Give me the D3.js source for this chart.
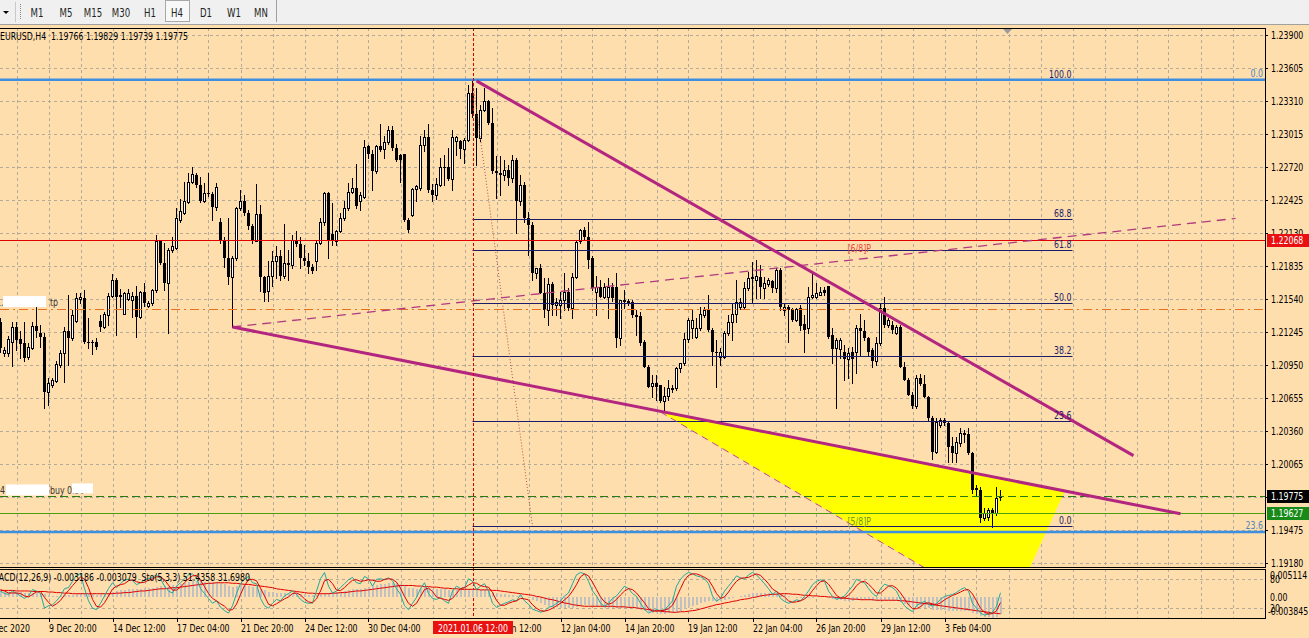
<!DOCTYPE html>
<html><head><meta charset="utf-8">
<script src="https://cdn.jsdelivr.net/npm/d3@7"></script>
<style>
html,body{margin:0;padding:0;background:#FFDEAD;overflow:hidden}
svg{display:block}
text{font-family:"DejaVu Sans Condensed","DejaVu Sans",sans-serif;font-size:10.5px;white-space:pre}
</style></head><body>
<svg id="c" width="1309" height="638"></svg>
<script>
// ---------------- DATA ----------------
const titleText = "EURUSD,H4  1.19766 1.19829 1.19739 1.19775";
const indicatorText = "MACD(12,26,9) -0.003186 -0.003079  Sto(5,3,3) 51.4358 31.6980";
const periods = ["M1","M5","M15","M30","H1","H4","D1","W1","MN"];
const activePeriod = "H4";
// OHLC per H4 bar, [open, high, low, close]
const ohlc = [
[1.2133,1.2137,1.2107,1.2110],[1.2106,1.2111,1.2103,1.2108],[1.2106,1.2121,1.2103,1.2118],[1.2116,1.2133,1.2094,1.2129],[1.2129,1.2133,1.2108,1.2117],
[1.2118,1.2125,1.2101,1.2114],[1.2115,1.2133,1.2099,1.2101],[1.2102,1.2115,1.2100,1.2111],[1.2110,1.2133,1.2109,1.2130],[1.2130,1.2147,1.2120,1.2125],
[1.2124,1.2131,1.2111,1.2120],[1.2120,1.2124,1.2057,1.2071],[1.2071,1.2083,1.2059,1.2079],[1.2077,1.2083,1.2075,1.2082],[1.2081,1.2099,1.2080,1.2096],
[1.2095,1.2108,1.2093,1.2106],[1.2106,1.2129,1.2080,1.2125],[1.2125,1.2158,1.2095,1.2119],[1.2119,1.2144,1.2117,1.2140],[1.2134,1.2159,1.2133,1.2155],
[1.2154,1.2159,1.2150,1.2156],[1.2155,1.2162,1.2115,1.2116],[1.2116,1.2137,1.2110,1.2115],[1.2116,1.2117,1.2105,1.2115],[1.2116,1.2119,1.2109,1.2111],
[1.2134,1.2140,1.2125,1.2129],[1.2129,1.2142,1.2128,1.2141],[1.2140,1.2159,1.2131,1.2157],[1.2157,1.2176,1.2156,1.2171],[1.2171,1.2173,1.2122,1.2156],
[1.2158,1.2163,1.2147,1.2156],[1.2141,1.2160,1.2141,1.2159],[1.2154,1.2163,1.2153,1.2159],[1.2153,1.2160,1.2138,1.2157],[1.2157,1.2166,1.2120,1.2138],
[1.2138,1.2161,1.2137,1.2160],[1.2160,1.2168,1.2148,1.2150],[1.2148,1.2152,1.2147,1.2150],[1.2150,1.2163,1.2149,1.2162],[1.2162,1.2211,1.2160,1.2206],
[1.2206,1.2207,1.2185,1.2186],[1.2186,1.2204,1.2162,1.2168],[1.2168,1.2200,1.2124,1.2198],[1.2198,1.2209,1.2196,1.2201],[1.2200,1.2235,1.2199,1.2226],
[1.2225,1.2243,1.2223,1.2233],[1.2231,1.2259,1.2230,1.2242],[1.2241,1.2267,1.2240,1.2259],[1.2259,1.2272,1.2258,1.2266],[1.2265,1.2267,1.2254,1.2256],
[1.2256,1.2263,1.2241,1.2242],[1.2242,1.2258,1.2241,1.2249],[1.2249,1.2267,1.2246,1.2248],[1.2248,1.2250,1.2225,1.2236],[1.2236,1.2258,1.2234,1.2254],
[1.2223,1.2226,1.2204,1.2207],[1.2207,1.2209,1.2183,1.2191],[1.2191,1.2226,1.2167,1.2174],[1.2174,1.2192,1.2129,1.2191],[1.2191,1.2236,1.2189,1.2235],
[1.2235,1.2251,1.2234,1.2242],[1.2242,1.2247,1.2229,1.2231],[1.2231,1.2234,1.2217,1.2219],[1.2219,1.2221,1.2204,1.2206],[1.2206,1.2257,1.2206,1.2230],
[1.2230,1.2238,1.2161,1.2174],[1.2174,1.2175,1.2152,1.2159],[1.2161,1.2188,1.2152,1.2175],[1.2175,1.2197,1.2166,1.2188],[1.2188,1.2201,1.2173,1.2192],
[1.2192,1.2198,1.2171,1.2175],[1.2175,1.2221,1.2173,1.2186],[1.2186,1.2198,1.2171,1.2184],[1.2184,1.2211,1.2182,1.2207],[1.2207,1.2215,1.2201,1.2203],
[1.2203,1.2209,1.2182,1.2191],[1.2191,1.2202,1.2184,1.2188],[1.2188,1.2195,1.2177,1.2183],[1.2183,1.2185,1.2177,1.2179],[1.2188,1.2207,1.2180,1.2204],
[1.2204,1.2226,1.2203,1.2223],[1.2223,1.2250,1.2220,1.2249],[1.2249,1.2250,1.2191,1.2206],[1.2212,1.2240,1.2202,1.2206],[1.2206,1.2216,1.2202,1.2215],
[1.2215,1.2231,1.2214,1.2226],[1.2226,1.2242,1.2225,1.2235],[1.2235,1.2258,1.2234,1.2250],[1.2250,1.2262,1.2249,1.2253],[1.2253,1.2275,1.2235,1.2237],
[1.2242,1.2250,1.2234,1.2247],[1.2245,1.2296,1.2244,1.2290],[1.2291,1.2292,1.2280,1.2284],[1.2284,1.2287,1.2251,1.2268],[1.2268,1.2292,1.2267,1.2291],
[1.2291,1.2310,1.2286,1.2287],[1.2288,1.2300,1.2280,1.2294],[1.2294,1.2309,1.2293,1.2305],[1.2305,1.2309,1.2287,1.2289],[1.2289,1.2293,1.2277,1.2278],
[1.2283,1.2284,1.2259,1.2278],[1.2284,1.2284,1.2224,1.2225],[1.2225,1.2226,1.2214,1.2216],[1.2229,1.2253,1.2228,1.2252],[1.2252,1.2256,1.2242,1.2255],
[1.2253,1.2300,1.2251,1.2292],[1.2292,1.2305,1.2286,1.2299],[1.2299,1.2310,1.2250,1.2251],[1.2251,1.2257,1.2242,1.2247],[1.2247,1.2262,1.2243,1.2257],
[1.2256,1.2280,1.2255,1.2272],[1.2272,1.2283,1.2256,1.2271],[1.2272,1.2289,1.2260,1.2261],[1.2261,1.2305,1.2251,1.2299],[1.2295,1.2300,1.2283,1.2299],
[1.2295,1.2296,1.2280,1.2288],[1.2288,1.2298,1.2276,1.2296],[1.2296,1.2345,1.2295,1.2338],[1.2338,1.2350,1.2317,1.2319],[1.2319,1.2343,1.2274,1.2298],
[1.2298,1.2327,1.2295,1.2323],[1.2323,1.2343,1.2322,1.2331],[1.2331,1.2332,1.2310,1.2311],[1.2311,1.2325,1.2267,1.2268],[1.2268,1.2282,1.2244,1.2267],
[1.2267,1.2282,1.2247,1.2265],[1.2265,1.2278,1.2260,1.2269],[1.2269,1.2274,1.2256,1.2262],[1.2262,1.2283,1.2259,1.2278],[1.2278,1.2280,1.2213,1.2242],
[1.2242,1.2265,1.2238,1.2256],[1.2256,1.2259,1.2223,1.2226],[1.2226,1.2232,1.2193,1.2220],[1.2220,1.2223,1.2171,1.2177],[1.2177,1.2182,1.2173,1.2182],
[1.2182,1.2185,1.2159,1.2159],[1.2159,1.2173,1.2138,1.2144],[1.2144,1.2173,1.2131,1.2167],[1.2167,1.2169,1.2140,1.2149],[1.2149,1.2155,1.2140,1.2151],
[1.2149,1.2160,1.2137,1.2153],[1.2153,1.2177,1.2144,1.2160],[1.2160,1.2164,1.2144,1.2146],[1.2146,1.2177,1.2137,1.2174],[1.2174,1.2207,1.2173,1.2205],
[1.2206,1.2217,1.2204,1.2216],[1.2216,1.2218,1.2207,1.2209],[1.2209,1.2223,1.2182,1.2189],[1.2191,1.2192,1.2162,1.2164],[1.2160,1.2175,1.2140,1.2165],
[1.2165,1.2171,1.2156,1.2156],[1.2156,1.2168,1.2155,1.2165],[1.2156,1.2173,1.2137,1.2165],[1.2165,1.2168,1.2152,1.2155],[1.2165,1.2177,1.2111,1.2119],
[1.2119,1.2153,1.2113,1.2153],[1.2153,1.2162,1.2146,1.2151],[1.2152,1.2154,1.2149,1.2150],[1.2151,1.2153,1.2138,1.2140],[1.2140,1.2144,1.2122,1.2138],
[1.2139,1.2142,1.2113,1.2115],[1.2116,1.2117,1.2093,1.2093],[1.2093,1.2095,1.2075,1.2075],[1.2076,1.2086,1.2066,1.2079],[1.2079,1.2086,1.2064,1.2075],
[1.2077,1.2077,1.2062,1.2063],[1.2063,1.2075,1.2054,1.2067],[1.2067,1.2082,1.2064,1.2074],[1.2074,1.2077,1.2071,1.2073],[1.2074,1.2093,1.2073,1.2092],
[1.2092,1.2097,1.2089,1.2097],[1.2097,1.2124,1.2095,1.2118],[1.2118,1.2137,1.2116,1.2135],[1.2128,1.2144,1.2119,1.2135],[1.2120,1.2137,1.2119,1.2128],
[1.2128,1.2147,1.2126,1.2141],[1.2140,1.2147,1.2138,1.2144],[1.2144,1.2158,1.2125,1.2126],[1.2126,1.2128,1.2095,1.2107],[1.2107,1.2117,1.2075,1.2106],
[1.2102,1.2110,1.2095,1.2107],[1.2102,1.2125,1.2101,1.2124],[1.2124,1.2140,1.2122,1.2133],[1.2133,1.2150,1.2117,1.2141],[1.2141,1.2171,1.2133,1.2151],
[1.2147,1.2155,1.2145,1.2151],[1.2147,1.2169,1.2146,1.2164],[1.2164,1.2178,1.2162,1.2173],[1.2174,1.2187,1.2151,1.2172],[1.2171,1.2189,1.2155,1.2175],
[1.2174,1.2184,1.2155,1.2165],[1.2164,1.2174,1.2155,1.2168],[1.2167,1.2173,1.2166,1.2171],[1.2170,1.2171,1.2160,1.2164],[1.2164,1.2182,1.2160,1.2180],
[1.2180,1.2182,1.2144,1.2147],[1.2144,1.2150,1.2140,1.2147],[1.2147,1.2149,1.2116,1.2144],[1.2145,1.2146,1.2134,1.2135],[1.2135,1.2146,1.2134,1.2145],
[1.2146,1.2149,1.2126,1.2130],[1.2132,1.2140,1.2107,1.2126],[1.2128,1.2165,1.2124,1.2156],[1.2156,1.2176,1.2155,1.2158],[1.2156,1.2168,1.2155,1.2159],
[1.2158,1.2165,1.2158,1.2160],[1.2162,1.2165,1.2158,1.2159],[1.2166,1.2166,1.2119,1.2120],[1.2122,1.2128,1.2097,1.2109],[1.2110,1.2119,1.2057,1.2117],
[1.2109,1.2119,1.2101,1.2117],[1.2107,1.2113,1.2082,1.2100],[1.2100,1.2110,1.2083,1.2106],[1.2107,1.2111,1.2079,1.2100],[1.2107,1.2131,1.2088,1.2128],
[1.2128,1.2141,1.2104,1.2125],[1.2125,1.2135,1.2117,1.2119],[1.2119,1.2120,1.2104,1.2107],[1.2108,1.2110,1.2093,1.2099],[1.2099,1.2120,1.2095,1.2115],
[1.2115,1.2150,1.2113,1.2146],[1.2146,1.2156,1.2129,1.2131],[1.2131,1.2137,1.2129,1.2135],[1.2131,1.2134,1.2124,1.2126],[1.2124,1.2131,1.2123,1.2129],
[1.2129,1.2131,1.2093,1.2093],[1.2093,1.2098,1.2082,1.2082],[1.2082,1.2083,1.2068,1.2068],[1.2068,1.2071,1.2057,1.2058],[1.2058,1.2086,1.2057,1.2083],
[1.2083,1.2087,1.2077,1.2078],[1.2078,1.2086,1.2066,1.2066],[1.2066,1.2067,1.2046,1.2048],[1.2048,1.2049,1.2011,1.2017],[1.2017,1.2048,1.2016,1.2044],
[1.2041,1.2048,1.2040,1.2046],[1.2046,1.2048,1.2041,1.2043],[1.2043,1.2044,1.2008,1.2022],[1.2023,1.2031,1.2008,1.2016],[1.2016,1.2031,1.2008,1.2026],
[1.2025,1.2039,1.2023,1.2034],[1.2034,1.2037,1.2026,1.2032],[1.2033,1.2039,1.2015,1.2016],[1.2016,1.2017,1.1981,1.1983],[1.1985,1.1988,1.1979,1.1983],
[1.1983,1.1986,1.1955,1.1958],[1.1958,1.1967,1.1956,1.1963],[1.1959,1.1967,1.1956,1.1965],[1.1965,1.1967,1.1950,1.1963],[1.1963,1.1986,1.1961,1.1976],
[1.19766,1.19829,1.19739,1.19775]
];
// MACD(12,26,9) main (histogram) and signal
const macdMain = [
0.0011,0.0010,0.0010,0.0010,0.0010,0.0009,0.0008,0.0008,0.0008,0.0008,
0.0008,0.0005,0.0003,0.0002,0.0002,0.0002,0.0003,0.0003,0.0004,0.0006,
0.0008,0.0007,0.0006,0.0005,0.0004,0.0005,0.0006,0.0008,0.0010,0.0011,
0.0012,0.0013,0.0014,0.0015,0.0015,0.0015,0.0016,0.0016,0.0016,0.0019,
0.0020,0.0020,0.0020,0.0021,0.0022,0.0024,0.0026,0.0028,0.0029,0.0029,
0.0029,0.0028,0.0028,0.0027,0.0027,0.0025,0.0023,0.0020,0.0019,0.0020,
0.0021,0.0021,0.0020,0.0018,0.0018,0.0015,0.0012,0.0010,0.0009,0.0008,
0.0007,0.0007,0.0006,0.0007,0.0007,0.0006,0.0005,0.0004,0.0003,0.0004,
0.0006,0.0008,0.0008,0.0008,0.0009,0.0010,0.0011,0.0013,0.0014,0.0014,
0.0014,0.0017,0.0019,0.0020,0.0021,0.0023,0.0024,0.0025,0.0026,0.0025,
0.0024,0.0020,0.0017,0.0016,0.0015,0.0017,0.0018,0.0016,0.0014,0.0014,
0.0014,0.0014,0.0013,0.0013,0.0013,0.0013,0.0013,0.0015,0.0015,0.0013,
0.0012,0.0012,0.0011,0.0009,0.0007,0.0006,0.0005,0.0004,0.0004,0.0002,
0.0001,0.0000,-0.0002,-0.0005,-0.0008,-0.0011,-0.0014,-0.0016,-0.0018,-0.0019,
-0.0020,-0.0020,-0.0021,-0.0020,-0.0018,-0.0016,-0.0015,-0.0015,-0.0017,-0.0018,
-0.0019,-0.0020,-0.0020,-0.0020,-0.0021,-0.0021,-0.0020,-0.0020,-0.0021,-0.0022,
-0.0024,-0.0026,-0.0028,-0.0029,-0.0030,-0.0031,-0.0031,-0.0030,-0.0029,-0.0027,
-0.0025,-0.0022,-0.0019,-0.0016,-0.0014,-0.0011,-0.0009,-0.0008,-0.0008,-0.0008,
-0.0008,-0.0006,-0.0004,-0.0002,0.0000,0.0002,0.0004,0.0006,0.0007,0.0008,
0.0008,0.0008,0.0008,0.0007,0.0007,0.0005,0.0003,0.0001,0.0000,-0.0001,
-0.0002,-0.0003,-0.0002,-0.0001,0.0000,0.0000,0.0000,-0.0002,-0.0004,-0.0006,
-0.0006,-0.0007,-0.0007,-0.0008,-0.0006,-0.0005,-0.0005,-0.0006,-0.0007,-0.0008,
-0.0006,-0.0006,-0.0006,-0.0007,-0.0007,-0.0010,-0.0013,-0.0016,-0.0019,-0.0019,
-0.0019,-0.0020,-0.0021,-0.0024,-0.0024,-0.0024,-0.0024,-0.0025,-0.0026,-0.0026,
-0.0025,-0.0025,-0.0026,-0.0029,-0.0031,-0.0034,-0.0036,-0.0037,-0.00384,-0.0036,-0.003186
];
const macdSignal = [
0.0012,0.0012,0.0012,0.0012,0.0011,0.0011,0.0011,0.0011,0.0010,0.0010,
0.0010,0.0010,0.0009,0.0009,0.0008,0.0008,0.0007,0.0007,0.0006,0.0006,
0.0006,0.0006,0.0006,0.0006,0.0006,0.0006,0.0006,0.0006,0.0006,0.0007,
0.0007,0.0008,0.0008,0.0009,0.0010,0.0011,0.0011,0.0012,0.0013,0.0014,
0.0015,0.0015,0.0016,0.0017,0.0017,0.0018,0.0019,0.0020,0.0021,0.0022,
0.0023,0.0024,0.0025,0.0025,0.0026,0.0026,0.0026,0.0026,0.0025,0.0025,
0.0024,0.0023,0.0023,0.0022,0.0021,0.0020,0.0019,0.0018,0.0017,0.0015,
0.0014,0.0013,0.0012,0.0011,0.0010,0.0009,0.0008,0.0007,0.0007,0.0006,
0.0006,0.0006,0.0006,0.0007,0.0007,0.0008,0.0008,0.0009,0.0010,0.0011,
0.0011,0.0012,0.0013,0.0014,0.0015,0.0016,0.0017,0.0018,0.0019,0.0020,
0.0021,0.0021,0.0021,0.0021,0.0020,0.0020,0.0019,0.0019,0.0018,0.0018,
0.0017,0.0016,0.0016,0.0015,0.0015,0.0014,0.0014,0.0014,0.0014,0.0014,
0.0013,0.0013,0.0013,0.0012,0.0012,0.0011,0.0010,0.0009,0.0008,0.0007,
0.0006,0.0005,0.0004,0.0003,0.0001,0.0000,-0.0002,-0.0004,-0.0005,-0.0007,
-0.0009,-0.0011,-0.0012,-0.0014,-0.0015,-0.0016,-0.0017,-0.0017,-0.0017,-0.0017,
-0.0017,-0.0017,-0.0017,-0.0017,-0.0018,-0.0018,-0.0018,-0.0019,-0.0019,-0.0020,
-0.0021,-0.0022,-0.0023,-0.0024,-0.0025,-0.0026,-0.0027,-0.0027,-0.0028,-0.0028,
-0.0027,-0.0027,-0.0026,-0.0025,-0.0024,-0.0022,-0.0020,-0.0018,-0.0016,-0.0014,
-0.0013,-0.0011,-0.0010,-0.0008,-0.0007,-0.0005,-0.0004,-0.0003,-0.0001,0.0000,
0.0002,0.0003,0.0004,0.0005,0.0005,0.0006,0.0006,0.0006,0.0005,0.0005,
0.0004,0.0003,0.0003,0.0002,0.0002,0.0001,0.0001,0.0000,0.0000,-0.0001,
-0.0002,-0.0002,-0.0003,-0.0004,-0.0004,-0.0005,-0.0005,-0.0005,-0.0005,-0.0006,
-0.0006,-0.0006,-0.0006,-0.0006,-0.0006,-0.0007,-0.0007,-0.0008,-0.0009,-0.0010,
-0.0011,-0.0012,-0.0013,-0.0014,-0.0015,-0.0016,-0.0017,-0.0018,-0.0019,-0.0020,
-0.0021,-0.0022,-0.0023,-0.0024,-0.0025,-0.0026,-0.0027,-0.0028,-0.0029,-0.0030,-0.003079
];
// Stochastic(5,3,3) main and signal
const stochMain = [
55,50,48,55,50,45,40,45,58,55, 50,20,25,27,35,45,60,62,75,88,
90,60,35,20,17,30,45,60,72,62, 70,78,79,76,68,72,78,80,83,88,
80,65,55,51,65,72,80,88,90,82, 60,50,40,30,35,22,15,10,25,50,
70,79,85,72,70,40,25,20,30,38, 35,45,50,55,48,38,32,30,31,55,
80,93,65,51,55,62,70,78,83,72, 70,85,80,65,79,80,78,82,76,60,
48,25,17,30,42,60,72,50,40,38, 42,35,30,55,65,60,62,80,75,58,
65,70,55,30,22,26,30,33,37,35, 48,35,28,18,15,12,14,22,24,30,
35,45,51,70,88,93,90,75,55,45, 30,24,30,40,45,55,65,60,50,44,
30,18,10,14,17,15,17,25,35,65, 79,88,93,90,86,84,80,70,45,34,
40,55,65,75,86,82,79,88,93,88, 79,70,60,48,55,40,34,30,33,37,
35,44,55,68,75,78,75,55,44,38, 41,45,55,65,79,75,72,60,50,44,
60,69,66,62,55,37,25,18,13,25, 30,34,28,24,30,38,44,46,48,52,
58,62,55,30,20,10,6,8,12,24,51.4358
];
const stochSignal = [
58,55,51,51,51,50,45,43,48,53, 54,42,32,24,29,36,47,56,66,75,
84,79,62,38,24,22,31,45,59,65, 68,70,76,78,74,72,73,77,80,84,
84,78,67,57,57,63,72,80,86,87, 77,64,50,40,35,29,24,16,17,28,
48,66,78,79,76,61,45,28,25,29, 34,39,43,50,51,47,39,33,31,39,
55,76,79,70,57,56,62,70,77,78, 75,76,78,77,75,75,79,80,79,73,
61,44,30,24,30,44,58,61,54,43, 40,38,36,40,50,60,62,67,72,71,
66,64,63,52,36,26,26,30,33,35, 40,39,37,27,20,15,14,16,20,25,
30,37,44,55,68,84,90,86,73,58, 43,33,28,31,38,47,55,60,58,51,
41,31,19,14,14,15,16,19,26,42, 60,77,87,90,90,87,83,78,65,50,
40,43,53,65,75,81,82,83,87,90, 87,79,70,59,54,48,43,35,32,33,
35,39,45,56,66,74,76,69,58,46, 41,41,47,55,66,73,75,69,61,51,
51,58,65,66,61,51,39,27,19,19, 23,30,31,29,27,31,37,42,46,49,
53,57,58,49,35,20,12,8,9,15,31.698
];
const priceTicks = [1.23900,1.23605,1.23310,1.23015,1.22720,1.22425,1.22130,1.21835,1.21540,1.21245,1.20950,1.20655,1.20360,1.20065,1.19770,1.19475,1.19180];
const timeLabels = [[-4,"7 Dec 2020"],[12,"9 Dec 20:00"],[28,"14 Dec 12:00"],[44,"17 Dec 04:00"],[60,"21 Dec 20:00"],[76,"24 Dec 12:00"],[92,"30 Dec 04:00"],[140,"12 Jan 04:00"],[156,"14 Jan 20:00"],[172,"19 Jan 12:00"],[188,"22 Jan 04:00"],[204,"26 Jan 20:00"],[220,"29 Jan 12:00"],[236,"3 Feb 04:00"]];
const hiddenTimeLabel = [124,"7 Jan 12:00"];   // mostly covered by the vertical-line time tag
const vLineBar = 118, vLineLabel = "2021.01.06 12:00";
// objects: [bar, price]
const trendUpper = [[119,1.2349],[283.25,1.2014]];
const trendLower = [[58,1.2129],[295,1.1962]];
const trendRising = [[58,1.2129],[308.75,1.2226]];
const triangle = [[165,1.2053],[266,1.1982],[251.75,1.1870]];
const fibBars = [118,268], fibHigh = 1.2350, fibLow = 1.1951;
const fibLevels = [0,23.6,38.2,50,61.8,68.8,100];
const fibDiag = [[118,1.2350],[133,1.1951]];
const fibBlue = [["0.0",1.2350],["23.6",1.19457]];
const redLevel = 1.22068, tpLevel = 1.2145, bidLevel = 1.19775, greenLevel = 1.19627;
const murrey = [["[6/8]P",212,1.22068],["[5/8]P",212,1.19627]];
const macdTicks = [["0.005114",0.005114],["0.00",0],["-0.003845",-0.003845]];
const stochTicks = [["80",80],["20",20]];

// ---------------- CHART ----------------
const svg = d3.select("#c");
const BG = "#FFDEAD";
const R = 1265, T = 28, B = 567, ST = 569, SB = 618;
const SX = 0.83; // horizontal compression to mimic the narrow terminal font
const x = d3.scaleLinear().domain([0,250]).range([0.5,1000.5]);
const y = d3.scaleLinear().domain([1.19180,1.23900]).range([563,35]);
const yM = d3.scaleLinear().domain([-0.003845,0.005114]).range([SB,ST]);
const yS = d3.scaleLinear().domain([0,100]).range([SB,ST]);
const cr = v => Math.round(v)+0.5;
const txt = (g,tx,ty,s,fill,anchor) => g.append("text").attr("transform",`translate(${tx},${ty}) scale(${SX},1)`).attr("text-anchor",anchor||"start").attr("fill",fill||"#000").text(s);

svg.append("rect").attr("width",1309).attr("height",638).attr("fill",BG);
const defs = svg.append("defs");
defs.append("clipPath").attr("id","cm").append("rect").attr("x",0).attr("y",T).attr("width",R).attr("height",B-T);
defs.append("clipPath").attr("id","cs").append("rect").attr("x",0).attr("y",ST).attr("width",R).attr("height",SB-ST);
defs.append("clipPath").attr("id","ct").append("rect").attr("x",513).attr("y",615).attr("width",60).attr("height",23);

// grid
const grid = svg.append("g").attr("stroke","#b5aa9a").attr("stroke-dasharray","3,3").attr("shape-rendering","crispEdges");
const gridBars = d3.range(4,320,8).filter(b => x(b) < R);
gridBars.forEach(b=>{
  grid.append("line").attr("x1",cr(x(b))-0.5).attr("x2",cr(x(b))-0.5).attr("y1",T).attr("y2",B);
  grid.append("line").attr("x1",cr(x(b))-0.5).attr("x2",cr(x(b))-0.5).attr("y1",ST).attr("y2",SB);
});
priceTicks.forEach(p=>grid.append("line").attr("x1",0).attr("x2",R).attr("y1",cr(y(p))).attr("y2",cr(y(p))));
stochTicks.forEach(t=>grid.append("line").attr("x1",0).attr("x2",R).attr("y1",cr(yS(t[1]))).attr("y2",cr(yS(t[1]))));

const gm = svg.append("g").attr("clip-path","url(#cm)");
// yellow triangle
gm.append("path").attr("d", d3.line().x(d=>x(d[0])).y(d=>y(d[1]))(triangle)+"Z").attr("fill","#ffff00");

// candles
const gc = gm.append("g").attr("shape-rendering","crispEdges");
ohlc.forEach((d,i)=>{
  const [o,h,l,c] = d; const cx = x(i);
  gc.append("line").attr("x1",cx).attr("x2",cx).attr("y1",Math.round(y(h))).attr("y2",Math.round(y(l))+1).attr("stroke","#000");
  const top = Math.round(y(Math.max(o,c))), bot = Math.round(y(Math.min(o,c)));
  if (c >= o) {
    gc.append("rect").attr("x",cx-1).attr("y",top+0.5).attr("width",2).attr("height",Math.max(bot-top,0)).attr("fill","#fff").attr("stroke","#000");
  } else {
    gc.append("rect").attr("x",cx-1.5).attr("y",top).attr("width",3).attr("height",Math.max(bot-top,1)).attr("fill","#000");
  }
});

// navy fibo (under the blue lines)
const fibPrice = lv => fibLow + (fibHigh-fibLow)*lv/100;
fibLevels.forEach(lv=>{
  gm.append("line").attr("x1",x(fibBars[0])).attr("x2",x(fibBars[1])).attr("y1",cr(y(fibPrice(lv)))).attr("y2",cr(y(fibPrice(lv)))).attr("stroke","#1c1c6a").attr("stroke-width",1);
});
gm.append("line").attr("x1",x(fibDiag[0][0])).attr("y1",y(fibDiag[0][1])).attr("x2",x(fibDiag[1][0])).attr("y2",y(fibDiag[1][1])).attr("stroke","#b0504a").attr("stroke-dasharray","1,2");

// horizontal lines
const hl = (p,col,w,dash)=>{const l=gm.append("line").attr("x1",0).attr("x2",R).attr("y1",cr(y(p))).attr("y2",cr(y(p))).attr("stroke",col).attr("stroke-width",w); if(dash) l.attr("stroke-dasharray",dash); return l;};
hl(tpLevel,"#e8701e",1,"9,4,2,4");
hl(redLevel,"#e00000",1.2);
hl(bidLevel,"#2a7a10",1,"8,4");
hl(greenLevel,"#48a010",1.2);
fibBlue.forEach(f=>gm.append("line").attr("x1",0).attr("x2",R).attr("y1",y(f[1])).attr("y2",y(f[1])).attr("stroke","#3f8fe0").attr("stroke-width",2.5));

// trend lines
const tl = (pts,col,w,dash)=>{const l=gm.append("line").attr("x1",x(pts[0][0])).attr("y1",y(pts[0][1])).attr("x2",x(pts[1][0])).attr("y2",y(pts[1][1])).attr("stroke",col).attr("stroke-width",w); if(dash) l.attr("stroke-dasharray",dash); return l;};
tl(trendRising,"#b03a80",1.3,"9,6");
tl([triangle[0],triangle[2]],"#c0409a",1,"7,5");
tl(trendUpper,"#b3267f",3);
tl(trendLower,"#b3267f",3);

// vertical line
svg.append("line").attr("x1",cr(x(vLineBar))-0.5).attr("x2",cr(x(vLineBar))-0.5).attr("y1",T).attr("y2",SB).attr("stroke","#d00000").attr("stroke-dasharray","3,2").attr("shape-rendering","crispEdges");

// labels on chart
fibLevels.forEach(lv=> txt(gm, x(fibBars[1])-1, y(fibPrice(lv))-2, lv.toFixed(1), "#1c1c6a", "end"));
fibBlue.forEach(f=> txt(gm, R-2, y(f[1])-3, f[0], "#4a86c0", "end"));
txt(gm, x(murrey[0][1])-1, y(murrey[0][2])+12, murrey[0][0], "#e8483a");
txt(gm, x(murrey[1][1])-1, y(murrey[1][2])+12, murrey[1][0], "#6e9a22");
txt(gm, 0, 40, titleText, "#000");
// order labels (masked in the original)
txt(gm, -4, y(tpLevel)-3, "1.", "#333");
gm.append("rect").attr("x",3).attr("y",y(tpLevel)-13).attr("width",43).attr("height",11).attr("fill","#fff");
txt(gm, 50, y(tpLevel)-3, "tp", "#333");
txt(gm, -5, y(bidLevel)-2, "14", "#333");
gm.append("rect").attr("x",6).attr("y",y(bidLevel)-12).attr("width",43).attr("height",11).attr("fill","#fff");
txt(gm, 50, y(bidLevel)-2, "buy 0.50", "#333");
gm.append("rect").attr("x",72).attr("y",y(bidLevel)-13).attr("width",21).attr("height",10).attr("fill","#fff");
// chart shift marker
svg.append("path").attr("d","M1003,29L1012,29L1007.5,34Z").attr("fill","#9a9a9a");

// ---------------- SUBWINDOW ----------------
const gs = svg.append("g").attr("clip-path","url(#cs)");
const gh = gs.append("g").attr("shape-rendering","crispEdges");
macdMain.forEach((v,i)=>{
  const a = yM(0), b = yM(v);
  gh.append("rect").attr("x",x(i)-0.5).attr("y",Math.min(a,b)).attr("width",2).attr("height",Math.max(Math.abs(b-a),0.5)).attr("fill","#c0c0c0");
});
const lineS = d3.line().x((d,i)=>x(i)).y(d=>yS(d));
const lineM = d3.line().x((d,i)=>x(i)).y(d=>yM(d));
gs.append("path").attr("d",lineM(macdSignal)).attr("fill","none").attr("stroke","#e00000").attr("stroke-width",1);
gs.append("path").attr("d",lineS(stochMain)).attr("fill","none").attr("stroke","#20a89c").attr("stroke-width",1);
gs.append("path").attr("d",lineS(stochSignal)).attr("fill","none").attr("stroke","#e00000").attr("stroke-width",1);
txt(gs, -8, 581, indicatorText, "#000");

// ---------------- FRAMES ----------------
const fr = svg.append("g").attr("stroke","#000").attr("fill","none").attr("shape-rendering","crispEdges");
fr.append("path").attr("d",`M0,${T+0.5}H${R+0.5}V${B+0.5}H0`);
fr.append("path").attr("d",`M0,${ST+0.5}H${R+0.5}V${SB+0.5}H0`);

// ---------------- PRICE AXIS ----------------
const ax = svg.append("g");
priceTicks.forEach(p=>{
  ax.append("line").attr("x1",R).attr("x2",R+3).attr("y1",cr(y(p))).attr("y2",cr(y(p))).attr("stroke","#000").attr("shape-rendering","crispEdges");
  txt(ax, R+6, y(p)+4, p.toFixed(5), "#000");
});
const priceBox = (p,bg)=>{
  ax.append("rect").attr("x",R+2).attr("y",Math.round(y(p))-6).attr("width",42).attr("height",13).attr("fill",bg);
  txt(ax, R+6, y(p)+4, p.toFixed(5), "#fff");
};
priceBox(redLevel,"#e81010");
priceBox(bidLevel,"#000");
priceBox(greenLevel,"#178a17");
macdTicks.forEach(t=> txt(ax, R+(t[1]<0?3:5), yM(t[1])+(t[1]>0?10:(t[1]<0?-3:4)), t[0], "#000"));
stochTicks.forEach(t=> txt(ax, R+5, yS(t[1])+4, t[0], "#000"));

// ---------------- TIME AXIS ----------------
timeLabels.forEach(t=>{
  const tx = Math.round(x(t[0]));
  ax.append("line").attr("x1",tx+0.5).attr("x2",tx+0.5).attr("y1",SB).attr("y2",SB+4).attr("stroke","#000");
  txt(ax, tx, 632, t[1], "#000");
});
const hiddenG = ax.append("g").attr("clip-path","url(#ct)");
txt(hiddenG, Math.round(x(hiddenTimeLabel[0])), 632, hiddenTimeLabel[1], "#000");
const vx = Math.round(x(vLineBar));
ax.append("rect").attr("x",vx-40).attr("y",621).attr("width",80).attr("height",13).attr("fill","#e81010");
txt(ax, vx, 632, vLineLabel, "#fff", "middle");

// ---------------- TOOLBAR ----------------
const tb = svg.append("g");
tb.append("rect").attr("x",0).attr("y",0).attr("width",1309).attr("height",24).attr("fill","#f0f0f0");
tb.append("line").attr("x1",0).attr("x2",1309).attr("y1",24.5).attr("y2",24.5).attr("stroke","#a0a0a0");
tb.append("path").attr("d","M3,11L9,11L6,14Z").attr("fill","#000");
tb.append("line").attr("x1",15.5).attr("x2",15.5).attr("y1",2).attr("y2",22).attr("stroke","#c8c8c8");
tb.append("line").attr("x1",20.5).attr("x2",20.5).attr("y1",4).attr("y2",20).attr("stroke","#888").attr("stroke-dasharray","1,1");
const btnX = [37,66,93,121,150,177,206,234,261];
periods.forEach((p,i)=>{
  if (p===activePeriod) tb.append("rect").attr("x",btnX[i]-11.5).attr("y",0.5).attr("width",24).attr("height",21).attr("fill","#f8f8f8").attr("stroke","#a8a8a8");
  txt(tb, btnX[i], 17, p, "#222", "middle").style("font-size","11.5px");
});
tb.append("line").attr("x1",276.5).attr("x2",276.5).attr("y1",0).attr("y2",22).attr("stroke","#a0a0a0");
</script>
</body></html>
